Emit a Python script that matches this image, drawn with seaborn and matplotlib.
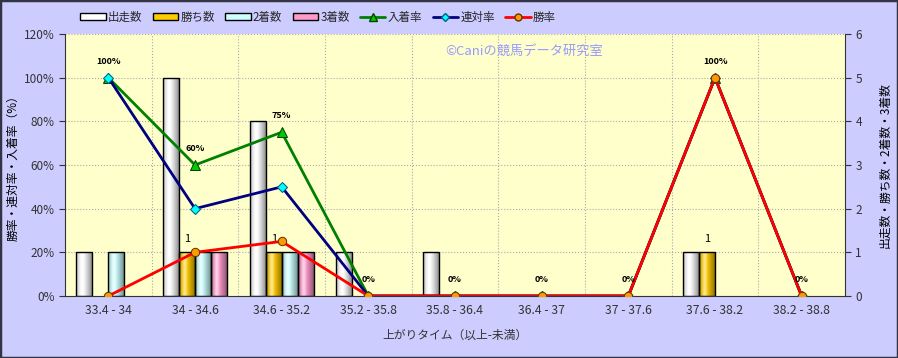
import numpy as np
import pandas as pd
import matplotlib
matplotlib.use("Agg")
import matplotlib.pyplot as plt
import matplotlib.colors as mcolors
from matplotlib.patches import Patch, Rectangle
from matplotlib.lines import Line2D
import seaborn as sns

categories = ["33.4 - 34", "34 - 34.6", "34.6 - 35.2", "35.2 - 35.8", "35.8 - 36.4",
              "36.4 - 37", "37 - 37.6", "37.6 - 38.2", "38.2 - 38.8"]
runs = [1, 5, 4, 1, 1, 0, 0, 1, 0]
wins = [0, 1, 1, 0, 0, 0, 0, 1, 0]
seconds = [1, 1, 1, 0, 0, 0, 0, 0, 0]
thirds = [0, 1, 1, 0, 0, 0, 0, 0, 0]
place_rate = [100, 60, 75, 0, 0, 0, 0, 100, 0]
quinella_rate = [100, 40, 50, 0, 0, 0, 0, 100, 0]
win_rate = [0, 20, 25, 0, 0, 0, 0, 100, 0]

bar_names = ["出走数", "勝ち数", "2着数", "3着数"]
bar_colors = ["#ffffff", "#ffcc00", "#ccffff", "#ff99cc"]

sns.set_style("white")
plt.rcParams['font.family'] = ['Noto Sans CJK JP', 'DejaVu Sans']

df = pd.DataFrame({
    "cat": np.repeat(categories, 4),
    "series": bar_names * len(categories),
    "value": np.ravel(np.column_stack([runs, wins, seconds, thirds])),
})

fig = plt.figure(figsize=(8.98, 3.58), dpi=100)
fig.patch.set_facecolor("#ccccff")
ax = fig.add_axes([65/898, 1-296/358, (845-65)/898, (296-34)/358])
ax.set_facecolor("#ffffcc")

sns.barplot(data=df, x="cat", y="value", hue="series", hue_order=bar_names,
            order=categories, palette=bar_colors, width=0.74, edgecolor="black",
            linewidth=1, ax=ax, legend=False, saturation=1)

n = len(categories)
ax.set_xlim(-0.5, n - 0.5)
ax.set_ylim(0, 6)


def shade_colors(color, npts=64):
    base = np.array(mcolors.to_rgb(color))
    t = np.linspace(0, 1, npts)
    dark = 1 - 0.5 * (np.abs(t - 0.38) / 0.62) ** 1.3
    c = base[None, :] * dark[:, None]
    hl = 0.55 * np.exp(-((t - 0.33) / 0.14) ** 2)
    c = c * (1 - hl[:, None]) + hl[:, None]
    return np.clip(c[None, :, :], 0, 1)


for p in list(ax.patches):
    h = p.get_height()
    if h <= 0:
        p.set_visible(False)
        continue
    x0, y0, w = p.get_x(), p.get_y(), p.get_width()
    fc = p.get_facecolor()
    img = shade_colors(fc)
    im = ax.imshow(img, extent=[x0, x0 + w, y0, y0 + h], aspect="auto",
                   zorder=p.get_zorder(), interpolation="bilinear")
    im.set_clip_path(p)
    p.set_facecolor("none")
    p.set_zorder(p.get_zorder() + 0.1)

ax.set_xlim(-0.5, n - 0.5)
ax.set_ylim(0, 6)
ax.set_aspect("auto")

# win count labels
bar_w = 0.74 / 4
for i, v in enumerate(wins):
    if v > 0:
        ax.text(i - bar_w / 2, v + 0.18, f"{v}", ha="center", va="bottom", fontsize=8, color="black")

ax2 = ax.twinx()
ax2.set_ylim(0, 120)
ax2.set_xlim(-0.5, n - 0.5)
xs = np.arange(n)
sns.lineplot(x=xs, y=place_rate, ax=ax2, color="#008000", linewidth=2, marker="^",
             markersize=7, markerfacecolor="#00cc00", markeredgecolor="#004400", zorder=5)
sns.lineplot(x=xs, y=quinella_rate, ax=ax2, color="#000080", linewidth=2, marker="D",
             markersize=5, markerfacecolor="#00ffff", markeredgecolor="#006080", zorder=6)
sns.lineplot(x=xs, y=win_rate, ax=ax2, color="#ff0000", linewidth=2, marker="o",
             markersize=6, markerfacecolor="#ff9900", markeredgecolor="#663300", zorder=7)

for i, v in enumerate(place_rate):
    ax2.text(i, v + 7.5, f"{v}%", ha="center", va="center", fontsize=6.5,
             fontweight="bold", color="black", zorder=8)

# axes setup
ax.yaxis.tick_right()
ax.yaxis.set_label_position("right")
ax2.yaxis.tick_left()
ax2.yaxis.set_label_position("left")
ax.set_yticks(range(0, 7))
ax2.set_yticks(range(0, 121, 20))
ax2.set_yticklabels([f"{v}%" for v in range(0, 121, 20)])
ax.set_xticks(range(n))
ax.set_xticklabels(categories)
ax.set_xticks(np.arange(0.5, n - 0.5, 1), minor=True)

ax.grid(True, which="minor", axis="x", color="#aaaaaa", linestyle=":", linewidth=0.8)
ax.grid(True, which="major", axis="y", color="#aaaaaa", linestyle=":", linewidth=0.8)
ax.set_axisbelow(True)

for a in (ax, ax2):
    for s in a.spines.values():
        s.set_visible(False)
ax.spines["bottom"].set_visible(True)
ax.spines["bottom"].set_color("#333333")
ax2.spines["left"].set_visible(True)
ax2.spines["left"].set_color("#333333")
ax.spines["right"].set_visible(True)
ax.spines["right"].set_color("#333333")

ax.tick_params(axis="x", which="both", length=0, labelsize=8.8, labelcolor="#333333", pad=6)
ax.tick_params(axis="y", length=4, labelsize=8.5, labelcolor="#333333", color="#333333")
ax2.tick_params(axis="y", length=4, labelsize=8.5, labelcolor="#333333", color="#333333")

ax.set_xlabel("上がりタイム（以上-未満）", fontsize=8.5, color="#333333", labelpad=8)
ax.set_ylabel("出走数・勝ち数・2着数・3着数", fontsize=8.5, color="black", labelpad=12)
ax2.set_ylabel("勝率・連対率・入着率（%）", fontsize=8.5, color="black", labelpad=3)

ax2.text(0.488, 0.935, "©Caniの競馬データ研究室", transform=ax2.transAxes, fontsize=9.5,
         color="#9999ff", ha="left", va="center")

handles = [Patch(facecolor=c, edgecolor="black", linewidth=1) for c in bar_colors]
handles += [
    Line2D([0], [0], color="#008000", lw=2, marker="^", markersize=6,
           markerfacecolor="#00cc00", markeredgecolor="#004400"),
    Line2D([0], [0], color="#000080", lw=2, marker="D", markersize=4,
           markerfacecolor="#00ffff", markeredgecolor="#006080"),
    Line2D([0], [0], color="#ff0000", lw=2, marker="o", markersize=5,
           markerfacecolor="#ff9900", markeredgecolor="#663300"),
]
labels = bar_names + ["入着率", "連対率", "勝率"]
fig.legend(handles, labels, loc="center", bbox_to_anchor=(318/898, 1-17/358), ncol=7,
           frameon=False, fontsize=8.3, handlelength=2.2, handleheight=0.5,
           handletextpad=0.2, columnspacing=0.9)

fig.add_artist(Rectangle((0, 0), 1, 1, transform=fig.transFigure, fill=False,
                         edgecolor="#333344", linewidth=2.5))

fig.savefig("out.png", dpi=100, facecolor=fig.get_facecolor())
